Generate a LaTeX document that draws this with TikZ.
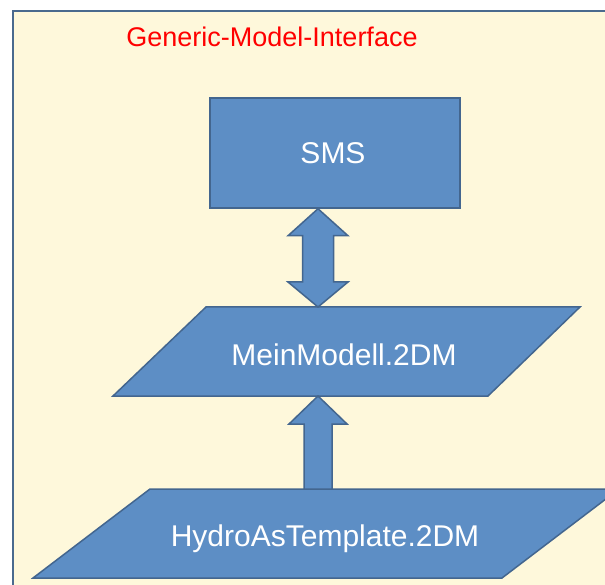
\documentclass[tikz,border=0pt]{standalone}
\usepackage{fontspec}
\setmainfont{Liberation Sans}
\usepackage{tikz}
\usetikzlibrary{calc,positioning}
\definecolor{gcream}{HTML}{FEF8DB}
\definecolor{gframe}{HTML}{4A6A8E}
\definecolor{gfill}{HTML}{5D8EC5}
\definecolor{gedge}{HTML}{43668F}
\tikzset{
  gpanel/.style={fill=gcream, draw=gframe, line width=2pt},
  gtitle/.style={red, font=\fontsize{27}{30}\selectfont, anchor=base},
  gblock/.style={fill=gfill, draw=gedge, line width=1.5pt, line join=miter},
  gtext/.style={white, font=\fontsize{30}{34}\selectfont, anchor=base, inner sep=0pt},
  gsms/.style={gblock, minimum width=250pt, minimum height=110pt, inner sep=0pt},
}

\begin{document}
\begin{tikzpicture}[x=1pt,y=-1pt]
  \useasboundingbox (0,0) rectangle (605,585);
  \clip (0,0) rectangle (605,585);

  % --- rahmen ---
  \draw[gpanel] (13,11) rectangle (640,620);
  \node[gtitle] (title) at (272,47) {Generic-Model-Interface};

  % --- SMS ---
  \node[gsms] (sms) at (335,153) {};
  \node[gtext] (smstxt) at (333,164) {SMS};

  % --- MeinModell.2DM ---
  \draw[gblock] (206,307) coordinate (mm-nw) -- (580,307) coordinate (mm-ne)
     -- (488,396) coordinate (mm-se) -- (113,396) coordinate (mm-sw) -- cycle;
  \node[gtext] (mm) at (344,365) {MeinModell.2DM};

  % --- HydroAsTemplate.2DM ---
  \draw[gblock] (150,489) coordinate (hy-nw) -- (619,489) coordinate (hy-ne)
     -- (502,578) coordinate (hy-se) -- (33,578) coordinate (hy-sw) -- cycle;
  \node[gtext] (hy) at (325,546) {HydroAsTemplate.2DM};

  % --- doppelpfeil SMS <-> MeinModell ---
  \coordinate (d1) at ($(sms.south)+(-17,0)$);
  \coordinate (d2) at (d1 |- mm-nw);
  \draw[gblock] (d1) -- ($(d1)+(30,27)$) -- ($(d1)+(15.5,27)$)
     -- ($(d2)+(15.5,-25)$) -- ($(d2)+(30,-25)$) -- (d2)
     -- ($(d2)+(-30,-25)$) -- ($(d2)+(-15.5,-25)$)
     -- ($(d1)+(-15.5,27)$) -- ($(d1)+(-30,27)$) -- cycle;

  % --- pfeil HydroAs -> MeinModell ---
  \coordinate (u1) at (d1 |- mm-sw);
  \coordinate (u2) at (d1 |- hy-nw);
  \draw[gblock] (u1) -- ($(u1)+(29,28)$) -- ($(u1)+(14,28)$)
     -- ($(u2)+(14,0)$) -- ($(u2)+(-14,0)$)
     -- ($(u1)+(-14,28)$) -- ($(u1)+(-29,28)$) -- cycle;
\end{tikzpicture}
\end{document}
